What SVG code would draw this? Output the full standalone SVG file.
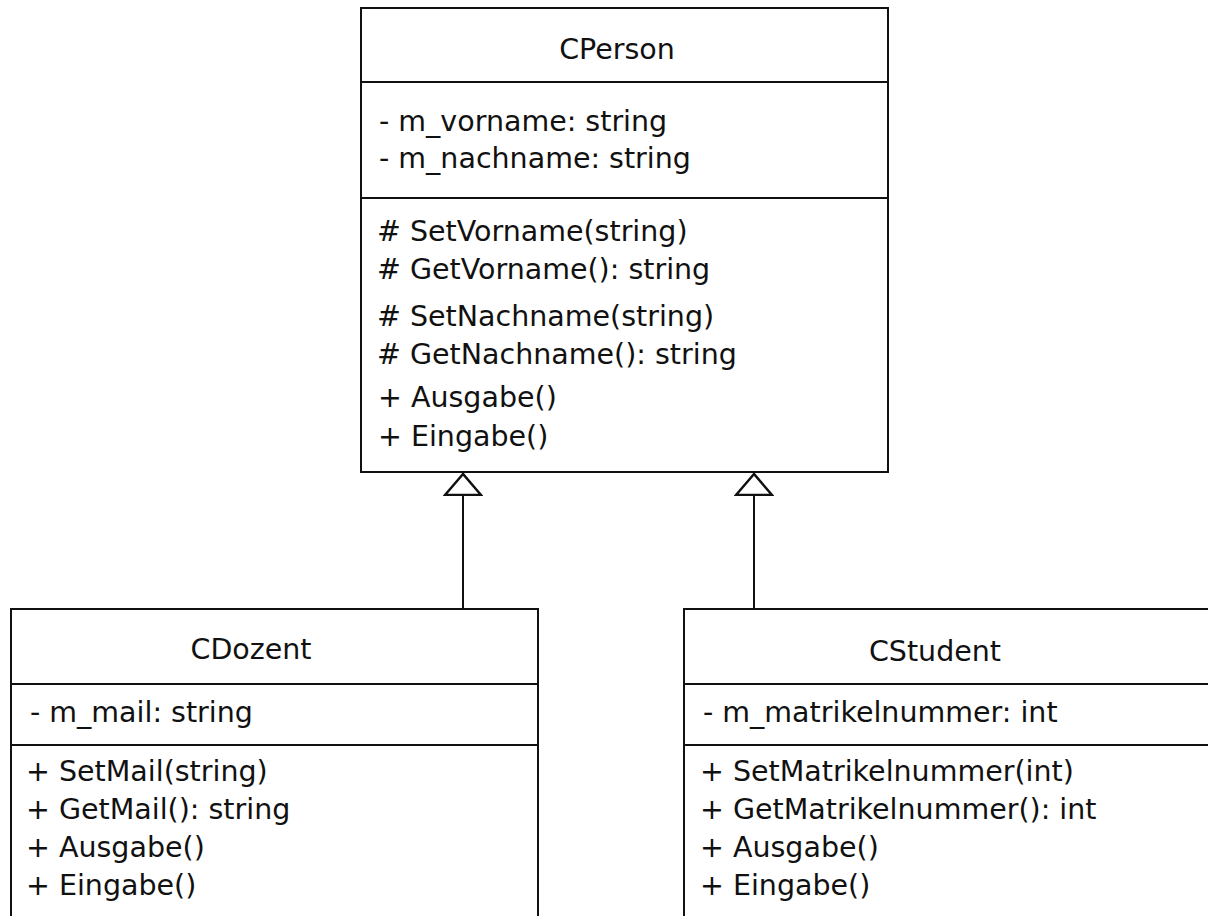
<svg xmlns="http://www.w3.org/2000/svg" width="1208" height="916" viewBox="0 0 1208 916">
<style>
.box{fill:#fff;stroke:#111;stroke-width:2}
.sep{stroke:#111;stroke-width:2;fill:none}
.t{font-family:"DejaVu Sans","Liberation Sans",sans-serif;font-size:28.5px;fill:#111}
.c{text-anchor:middle}
.edge{stroke:#111;stroke-width:2;fill:none}
</style>
<defs>
<marker id="inh" markerWidth="24" markerHeight="40" refX="22" refY="20" markerUnits="userSpaceOnUse" orient="auto" viewBox="0 0 24 40">
<path d="M22,20 L1,2 L1,38 Z" fill="#fff" stroke="#111" stroke-width="2.5" stroke-linejoin="miter"/>
</marker>
</defs>
<rect width="1208" height="916" fill="#fff"/>
<g id="CPerson">
<rect class="box" x="361" y="8" width="527" height="464"/>
<line class="sep" x1="361" y1="82" x2="888" y2="82"/>
<line class="sep" x1="361" y1="198" x2="888" y2="198"/>
<text class="t c" x="617" y="59">CPerson</text>
<text class="t" x="379" y="131">- m_vorname: string</text>
<text class="t" x="379" y="168">- m_nachname: string</text>
<text class="t" x="377" y="241"># SetVorname(string)</text>
<text class="t" x="377" y="279"># GetVorname(): string</text>
<text class="t" x="377" y="326"># SetNachname(string)</text>
<text class="t" x="377" y="364"># GetNachname(): string</text>
<text class="t" x="378" y="407">+ Ausgabe()</text>
<text class="t" x="378" y="446">+ Eingabe()</text>
</g>
<g id="CDozent">
<rect class="box" x="11" y="609" width="527" height="320"/>
<line class="sep" x1="11" y1="684" x2="538" y2="684"/>
<line class="sep" x1="11" y1="745" x2="538" y2="745"/>
<text class="t c" x="251" y="659">CDozent</text>
<text class="t" x="30" y="722">- m_mail: string</text>
<text class="t" x="26" y="781">+ SetMail(string)</text>
<text class="t" x="26" y="819">+ GetMail(): string</text>
<text class="t" x="26" y="857">+ Ausgabe()</text>
<text class="t" x="26" y="895">+ Eingabe()</text>
</g>
<g id="CStudent">
<rect class="box" x="684" y="609" width="560" height="320"/>
<line class="sep" x1="684" y1="684" x2="1208" y2="684"/>
<line class="sep" x1="684" y1="745" x2="1208" y2="745"/>
<text class="t c" x="935" y="661">CStudent</text>
<text class="t" x="703" y="722">- m_matrikelnummer: int</text>
<text class="t" x="700" y="781">+ SetMatrikelnummer(int)</text>
<text class="t" x="700" y="819">+ GetMatrikelnummer(): int</text>
<text class="t" x="700" y="857">+ Ausgabe()</text>
<text class="t" x="700" y="895">+ Eingabe()</text>
</g>
<g id="connectors">
<path class="edge" d="M463,609 L463,474" marker-end="url(#inh)"/>
<path class="edge" d="M754,609 L754,474" marker-end="url(#inh)"/>
</g>
</svg>
